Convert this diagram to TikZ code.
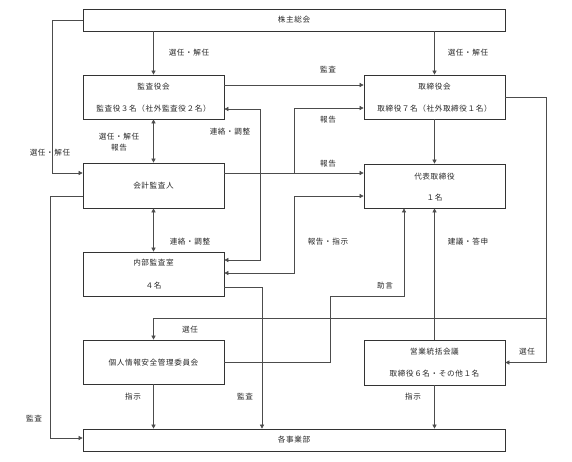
\documentclass[tikz,border=0pt]{standalone}
\usepackage{fontspec}
\newfontfamily\jp{Noto Sans CJK JP}[LetterSpace=8]
\usetikzlibrary{arrows.meta}
\begin{document}
\begin{tikzpicture}[x=1pt,y=-1pt,
  box/.style={draw=black!80,line width=0.7pt,inner sep=0pt},
  wide/.style={box,minimum width=422pt,minimum height=22pt},
  mid/.style={box,minimum width=141pt,minimum height=44pt},
  txt/.style={inner sep=0pt,font=\jp\fontsize{7.6}{9}\selectfont,text=black!85},
  ln/.style={draw=black!70,line width=0.6pt},
  arr/.style={ln,-{Triangle[length=4pt,width=4pt]}},
  darr/.style={ln,{Triangle[length=4pt,width=4pt]}-{Triangle[length=4pt,width=4pt]}}]
\useasboundingbox (0,0) rectangle (572,461);
% boxes
\node[wide] (kabu) at (294,20) {};
\node[mid] (kansa) at (153.5,97) {};
\node[mid] (tori) at (434.5,97) {};
\node[mid,minimum height=45pt] (kaikei) at (153.5,185.5) {};
\node[mid] (daihyo) at (434.5,186) {};
\node[mid] (naibu) at (153.5,274) {};
\node[mid] (kojin) at (153.5,362) {};
\node[mid,minimum height=45pt] (eigyo) at (434.5,362.5) {};
\node[wide] (jigyo) at (294,440) {};
% box texts
\node[txt] (t1) at (294,20) {株主総会};
\node[txt] (t2) at (153.5,87) {監査役会};
\node[txt] (t3) at (153.5,109) {監査役３名（社外監査役２名）};
\node[txt] (t4) at (434.5,87) {取締役会};
\node[txt] (t5) at (434.5,109) {取締役７名（社外取締役１名）};
\node[txt] (t6) at (153.5,186) {会計監査人};
\node[txt] (t7) at (434.5,177) {代表取締役};
\node[txt] (t8) at (434.5,198) {１名};
\node[txt] (t9) at (153.5,263) {内部監査室};
\node[txt] (t10) at (153.5,286) {４名};
\node[txt] (t11) at (153.5,363) {個人情報安全管理委員会};
\node[txt] (t12) at (434.5,352) {営業統括会議};
\node[txt] (t13) at (434.5,374) {取締役６名・その他１名};
\node[txt] (t14) at (294,440) {各事業部};
% junction coordinates
\coordinate (j1) at (294,173);
\coordinate (j2) at (546,318);
% connectors
\draw[arr] (kabu.south -| kansa) -- (kansa.north);
\draw[arr] (kabu.south -| tori) -- (tori.north);
\draw[arr] (kabu.west) -- ++(-30,0) |- ([yshift=12.5pt]kaikei.west);
\draw[darr] (kansa.south) -- (kaikei.north);
\draw[arr] ([yshift=12pt]kansa.east) -- ([yshift=12pt]tori.west);
\draw[arr] ([yshift=12.5pt]kaikei.east) -- ([yshift=13pt]daihyo.west);
\draw[arr] (j1) |- ([yshift=-11pt]tori.west);
\draw[darr] ([yshift=-12pt]kansa.east) -- (260,109) |- ([yshift=14pt]naibu.east);
\draw[darr] (kaikei.south) -- (naibu.north);
\draw[darr] ([yshift=-10pt]daihyo.west) -- (294,196) |- ([yshift=1pt]naibu.east);
\draw[arr] (kojin.east) -| (330,296) -| ([xshift=-30.5pt]daihyo.south);
\draw[arr] (eigyo.north) -- (daihyo.south);
\draw[arr] (tori.east) -- (546,97) |- (eigyo.east);
\draw[arr] (j2) -| (kojin.north);
\draw[arr] (tori.south) -- (daihyo.north);
\draw[arr] ([yshift=-13pt]naibu.east) -| ([xshift=-32pt]jigyo.north);
\draw[arr] (kojin.south) -- (kojin.south |- jigyo.north);
\draw[arr] (eigyo.south) -- (eigyo.south |- jigyo.north);
\draw[arr] ([yshift=-10.5pt]kaikei.west) -- ++(-32,0) |- ([yshift=2pt]jigyo.west);
% labels
\node[txt] (l1) at (189,53) {選任・解任};
\node[txt] (l2) at (468,53) {選任・解任};
\node[txt] (l3) at (50,153) {選任・解任};
\node[txt] (l4) at (119,137) {選任・解任};
\node[txt] (l5) at (119,148) {報告};
\node[txt] (l6) at (328,70) {監査};
\node[txt] (l7) at (328,120) {報告};
\node[txt] (l8) at (328,164) {報告};
\node[txt] (l9) at (230,132) {連絡・調整};
\node[txt] (l10) at (190,242) {連絡・調整};
\node[txt] (l11) at (328,242) {報告・指示};
\node[txt] (l12) at (385,286) {助言};
\node[txt] (l13) at (468,242) {建議・答申};
\node[txt] (l14) at (527,352) {選任};
\node[txt] (l15) at (190,330) {選任};
\node[txt] (l16) at (133,397) {指示};
\node[txt] (l17) at (245,397) {監査};
\node[txt] (l18) at (413,397) {指示};
\node[txt] (l19) at (34,419) {監査};
\end{tikzpicture}
\end{document}
